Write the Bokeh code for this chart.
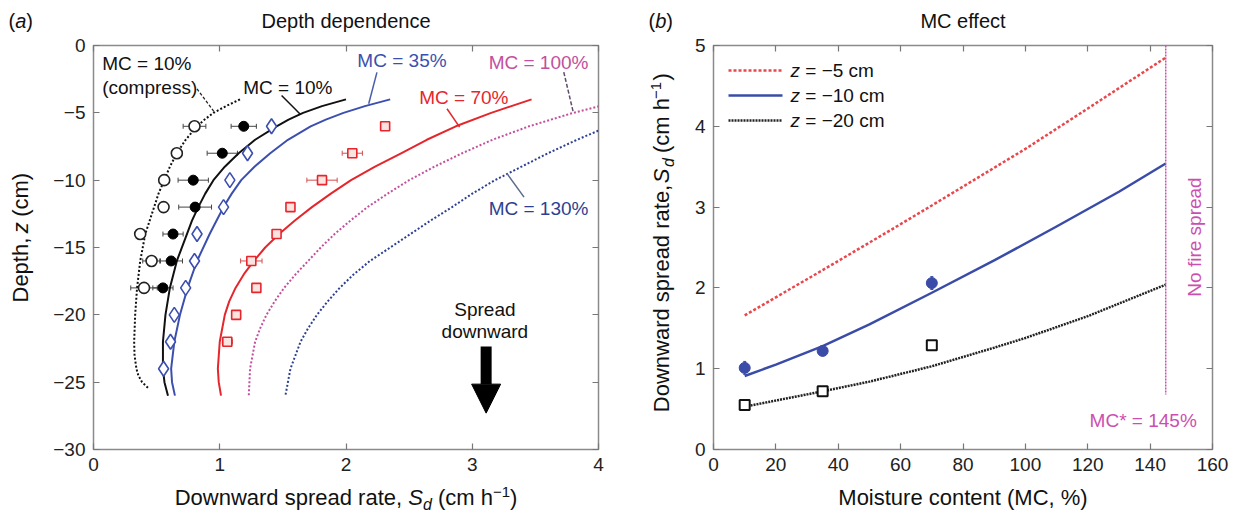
import math
from bokeh.plotting import figure
from bokeh.layouts import row, column
from bokeh.models import (Range1d, FixedTicker, LinearAxis, Label, Whisker, TeeHead,
                          ColumnDataSource, Arrow, NormalHead)
from bokeh.embed import file_html
from bokeh.resources import INLINE

FONT = "Liberation Sans"

# ---------------- panel (a): depth dependence ----------------
# model curves (depth z in cm, spread rate Sd in cm/h)
z_compress = [-4, -4.5, -5, -5.5, -6, -7, -8, -9, -10, -11, -12, -13, -14, -16, -18, -20, -22, -23, -24, -24.5, -25, -25.5]
sd_compress = [1.16, 1.05, 0.95, 0.88, 0.82, 0.73, 0.66, 0.605, 0.56, 0.515, 0.48, 0.445, 0.41, 0.37, 0.345, 0.33, 0.322, 0.325, 0.34, 0.355, 0.385, 0.44]

z_mc10 = [-4, -4.5, -5, -5.5, -6, -7, -8, -9, -10, -11, -12, -13, -14, -16, -18, -20, -22, -24, -25, -26]
sd_mc10 = [2.0, 1.81, 1.66, 1.545, 1.45, 1.28, 1.15, 1.04, 0.95, 0.885, 0.83, 0.78, 0.74, 0.66, 0.605, 0.57, 0.55, 0.55, 0.562, 0.59]

z_mc35 = [-4, -4.5, -5, -5.5, -6, -7, -8, -9, -10, -11, -12, -13, -14, -16, -18, -20, -22, -24, -25, -26]
sd_mc35 = [2.35, 2.15, 1.98, 1.84, 1.72, 1.54, 1.40, 1.275, 1.17, 1.095, 1.03, 0.975, 0.92, 0.82, 0.745, 0.685, 0.64, 0.615, 0.622, 0.645]

z_mc70 = [-4, -5, -6, -7, -8, -9, -10, -11, -12, -13, -14, -15, -16, -17, -18, -19, -20, -22, -24, -25, -26]
sd_mc70 = [3.47, 3.15, 2.87, 2.64, 2.44, 2.23, 2.04, 1.88, 1.73, 1.595, 1.47, 1.36, 1.27, 1.19, 1.125, 1.075, 1.04, 1.0, 0.985, 0.992, 1.01]

z_mc100 = [-4, -5, -6, -7, -8, -9, -10, -11, -12, -13, -14, -15, -16, -17, -18, -19, -20, -21, -22, -24, -26]
sd_mc100 = [4.22, 3.80, 3.45, 3.16, 2.92, 2.70, 2.50, 2.33, 2.17, 2.035, 1.91, 1.80, 1.70, 1.60, 1.51, 1.435, 1.37, 1.32, 1.28, 1.24, 1.23]

z_mc130 = [-4, -5, -6, -7, -8, -9, -10, -11, -12, -13, -14, -15, -16, -17, -18, -19, -20, -21, -22, -24, -26]
sd_mc130 = [4.75, 4.40, 4.08, 3.83, 3.60, 3.39, 3.18, 3.00, 2.84, 2.67, 2.51, 2.35, 2.19, 2.06, 1.95, 1.855, 1.77, 1.70, 1.64, 1.56, 1.52]

# measurements
z_pts = [-6, -8, -10, -12, -14, -16, -18]
sd_compress_pts = [0.80, 0.66, 0.56, 0.555, 0.37, 0.46, 0.40]
err_compress_pts = [0.09, 0.04, 0.03, 0.0, 0.02, 0.07, 0.105]
sd_mc10_pts = [1.19, 1.02, 0.79, 0.805, 0.63, 0.615, 0.55]
err_mc10_pts = [0.10, 0.12, 0.12, 0.13, 0.08, 0.09, 0.08]

z_pts_35 = [-6, -8, -10, -12, -14, -16, -18, -20, -22, -24]
sd_mc35_pts = [1.41, 1.22, 1.08, 1.03, 0.82, 0.80, 0.73, 0.64, 0.61, 0.555]

z_pts_70 = [-6, -8, -10, -12, -14, -16, -18, -20, -22]
sd_mc70_pts = [2.31, 2.05, 1.81, 1.56, 1.45, 1.25, 1.29, 1.13, 1.06]
err_mc70_pts = [0.0, 0.08, 0.12, 0.0, 0.0, 0.085, 0.0, 0.0, 0.04]

xticks_a = [0, 1, 2, 3, 4]
xtick_labels_a = ["0", "1", "2", "3", "4"]
yticks_a = [0, -5, -10, -15, -20, -25, -30]
ytick_labels_a = ["0", "\u22125", "\u221210", "\u221215", "\u221220", "\u221225", "\u221230"]

# ---------------- panel (b): MC effect ----------------
mc_z5 = [10, 35, 57, 70, 100, 120, 145]
sd_z5 = [1.66, 2.22, 2.72, 3.02, 3.72, 4.22, 4.85]
mc_z10 = [10, 20, 35, 50, 70, 90, 110, 130, 145]
sd_z10 = [0.91, 1.05, 1.28, 1.55, 1.94, 2.34, 2.76, 3.19, 3.54]
mc_z20 = [10, 35, 50, 70, 90, 100, 120, 145]
sd_z20 = [0.53, 0.72, 0.84, 1.03, 1.26, 1.38, 1.65, 2.04]

mc_pts = [10, 35, 70]
sd_z10_pts = [1.01, 1.22, 2.06]
err_z10_pts = [0.08, 0.03, 0.08]
sd_z20_pts = [0.55, 0.72, 1.29]

mc_star = 145
mc_star_line_bottom = 0.68

xticks_b = [0, 20, 40, 60, 80, 100, 120, 140, 160]
xtick_labels_b = [str(v) for v in xticks_b]
yticks_b = [0, 1, 2, 3, 4, 5]
ytick_labels_b = [str(v) for v in yticks_b]

# ---------------- layout geometry (page pixels) ----------------
PAGE_W, PAGE_H = 1246, 516
TOP_H = 34                 # title strip
TOP, BOT = 45, 449         # frame top / bottom
MAIN_TOP_B = TOP - TOP_H
MAIN_BOT_B = 34
MAIN_H = MAIN_TOP_B + (BOT - TOP) + MAIN_BOT_B
BOTTOM_H = PAGE_H - TOP_H - MAIN_H
YLAB_L_W = 40
LX0, LX1 = 93, 598
P1_W = 620 - YLAB_L_W
YLAB_R_W = 62
RX0, RX1 = 713, 1212
P2_X = 620 + YLAB_R_W
P2_W = PAGE_W - P2_X


def to_L(px, py):
    return (px - LX0) / ((LX1 - LX0) / 4.0), -(py - TOP) / ((BOT - TOP) / 30.0)


def to_R(px, py):
    return (px - RX0) / ((RX1 - RX0) / 160.0), 5 - (py - TOP) / ((BOT - TOP) / 5.0)


# Arial / Liberation Sans advance widths (1/1000 em)
W = {' ': 278, '(': 333, ')': 333, ',': 278, '%': 889, '=': 584, '\u2212': 584, '*': 389, '.': 278,
     'A': 667, 'B': 667, 'C': 722, 'D': 722, 'M': 833, 'N': 722, 'S': 667,
     'a': 556, 'b': 556, 'c': 500, 'd': 556, 'e': 556, 'f': 278, 'h': 556, 'i': 222, 'l': 222,
     'm': 833, 'n': 556, 'o': 556, 'p': 556, 'r': 333, 's': 500, 't': 278, 'u': 556, 'w': 722,
     'z': 500}


def tw(s, size):
    return sum(W.get(ch, 556) for ch in s) * size / 1000.0


def place_runs(p, conv, runs, cx, cy, vertical=False, align="center", gap=0.0):
    """runs: (text, size, italic, shift_px, color); cx, cy in page pixels (cy = text centre line).
    Each piece is anchored at its own centre; gap adds extra px between pieces."""
    widths = [tw(r[0], r[1]) + (gap if i < len(runs) - 1 else 0) for i, r in enumerate(runs)]
    total = sum(widths)
    base = runs[0][1]
    pos = -total / 2.0 if align == "center" else 0.0
    for (text, size, italic, shift, color), wdt in zip(runs, widths):
        lead = len(text) - len(text.lstrip())
        body = text.strip()
        if body:
            along = pos + tw(text[:lead], size) + tw(body, size) / 2.0
            across = 0.36 * base - shift - 0.35 * size
            if not vertical:
                px, py, ang = cx + along, cy + across, 0.0
            else:
                px, py, ang = cx + across, cy - along, math.pi / 2
            dx, dy = conv(px, py)
            p.add_layout(Label(x=dx, y=dy, text=body, angle=ang, text_font=FONT,
                               text_font_style="italic" if italic else "normal",
                               text_font_size=f"{size}px", text_align="center",
                               text_baseline="middle", text_color=color))
        pos += wdt


def strip(w, h):
    f = figure(width=w, height=h, x_range=Range1d(0, w), y_range=Range1d(h, 0),
               output_backend="svg", toolbar_location=None, x_axis_type=None, y_axis_type=None,
               min_border=0)
    f.outline_line_color = None
    f.background_fill_color = "white"
    f.border_fill_color = "white"
    return f


def style_axes(p, xt, xl, yt, yl):
    p.xaxis.ticker = FixedTicker(ticks=xt)
    p.yaxis.ticker = FixedTicker(ticks=yt)
    p.xaxis.major_label_overrides = {v: s for v, s in zip(xt, xl)}
    p.yaxis.major_label_overrides = {v: s for v, s in zip(yt, yl)}
    top = LinearAxis(ticker=FixedTicker(ticks=xt))
    right = LinearAxis(ticker=FixedTicker(ticks=yt))
    p.add_layout(top, "above")
    p.add_layout(right, "right")
    for ax in p.axis:
        ax.axis_line_color = None
        ax.major_tick_in = 6
        ax.major_tick_out = 0
        ax.major_tick_line_color = "#777777"
        ax.major_tick_line_width = 1.2
        ax.minor_tick_line_color = None
        ax.major_label_text_font = FONT
        ax.major_label_text_font_size = "19px"
        ax.major_label_text_color = "#222222"
        ax.major_label_standoff = 8
    p.xaxis[0].major_label_standoff = 6
    for ax in (top, right):
        ax.major_label_text_font_size = "2px"
        ax.major_label_text_color = None
        ax.major_label_standoff = 0
    p.xgrid.visible = False
    p.ygrid.visible = False
    p.outline_line_color = "#8a8a8a"
    p.outline_line_width = 1.5
    p.background_fill_color = "white"
    p.border_fill_color = "white"


K = "#111111"

# ================= panel (a) =================
p1 = figure(width=P1_W, height=MAIN_H, x_range=Range1d(0, 4), y_range=Range1d(-30, 0),
            output_backend="svg", toolbar_location=None,
            min_border_left=LX0 - YLAB_L_W, min_border_right=620 - LX1,
            min_border_top=MAIN_TOP_B, min_border_bottom=MAIN_BOT_B)
style_axes(p1, xticks_a, xtick_labels_a, yticks_a, ytick_labels_a)

BLUE = "#3d4fae"
RED = "#e5262c"
PINK = "#c2509d"
NAVY = "#2d3f92"

p1.line(sd_compress, z_compress, line_color="#111111", line_width=2, line_dash="2 2", line_join="round")
p1.line(sd_mc10, z_mc10, line_color="#111111", line_width=2, line_join="round")
p1.line(sd_mc35, z_mc35, line_color=BLUE, line_width=2, line_join="round")
p1.line(sd_mc70, z_mc70, line_color=RED, line_width=2, line_join="round")
p1.line(sd_mc100, z_mc100, line_color=PINK, line_width=2, line_dash="2 2", line_join="round")
p1.line(sd_mc130, z_mc130, line_color=NAVY, line_width=2, line_dash="2 2", line_join="round")


def hwhisk(p, xs, ys, errs, color="#444444"):
    keep = [(x, y, e) for x, y, e in zip(xs, ys, errs) if e > 0]
    src = ColumnDataSource(dict(base=[k[1] for k in keep],
                                lower=[k[0] - k[2] for k in keep],
                                upper=[k[0] + k[2] for k in keep]))
    p.add_layout(Whisker(source=src, base="base", lower="lower", upper="upper",
                         dimension="width", line_color=color, line_width=1,
                         upper_head=TeeHead(size=5, line_color=color, line_width=1),
                         lower_head=TeeHead(size=5, line_color=color, line_width=1),
                         level="underlay"))


hwhisk(p1, sd_compress_pts, z_pts, err_compress_pts)
hwhisk(p1, sd_mc10_pts, z_pts, err_mc10_pts)
hwhisk(p1, sd_mc70_pts, z_pts_70, err_mc70_pts, color="#d05050")

p1.scatter(sd_compress_pts, z_pts, marker="circle", size=11, line_color="#222222",
           line_width=1.6, fill_color="white")
p1.scatter(sd_mc10_pts, z_pts, marker="circle", size=10, line_color="black", fill_color="black")
p1.scatter(sd_mc35_pts, z_pts_35, marker="diamond", size=15, line_color=BLUE,
           line_width=1.6, fill_color="white")
p1.scatter(sd_mc70_pts, z_pts_70, marker="square", size=9, line_color=RED,
           line_width=1.6, fill_color="#fbe3df")

# curve labels with leader lines
lbl = dict(text_font=FONT, text_font_size="19px", text_baseline="middle", text_align="left")
p1.add_layout(Label(x=0.069, y=-1.36, text="MC = 10%", text_color="#111111", **lbl))
p1.add_layout(Label(x=0.069, y=-3.09, text="(compress)", text_color="#111111", **lbl))
p1.add_layout(Label(x=1.186, y=-3.09, text="MC = 10%", text_color="#111111", **lbl))
p1.add_layout(Label(x=2.09, y=-1.11, text="MC = 35%", text_color=BLUE, **lbl))
p1.add_layout(Label(x=3.13, y=-1.24, text="MC = 100%", text_color=PINK, **lbl))
p1.add_layout(Label(x=2.58, y=-3.84, text="MC = 70%", text_color=RED, **lbl))
p1.add_layout(Label(x=3.13, y=-12.13, text="MC = 130%", text_color=NAVY, **lbl))

p1.segment(x0=[0.82], y0=[-3.22], x1=[0.958], y1=[-4.95], line_color="#222222", line_width=1.3, line_dash="3 2")
p1.segment(x0=[1.49], y0=[-3.71], x1=[1.64], y1=[-5.12], line_color="#111111", line_width=1.5)
p1.segment(x0=[2.245], y0=[-2.0], x1=[2.18], y1=[-4.33], line_color="#4a5ea8", line_width=1.5)
p1.segment(x0=[2.80], y0=[-4.70], x1=[2.90], y1=[-6.06], line_color=RED, line_width=1.5)
p1.segment(x0=[3.725], y0=[-1.98], x1=[3.80], y1=[-4.95], line_color="#604a6a", line_width=1.5, line_dash="4 2")
p1.segment(x0=[3.277], y0=[-9.53], x1=[3.41], y1=[-11.26], line_color="#5a6a8a", line_width=1.5)

# "Spread downward" arrow
cen = dict(text_font=FONT, text_font_size="19px", text_baseline="middle", text_align="center",
           text_color="#111111")
p1.add_layout(Label(x=3.10, y=-19.6, text="Spread", **cen))
p1.add_layout(Label(x=3.10, y=-21.25, text="downward", **cen))
p1.add_layout(Arrow(end=NormalHead(size=29, fill_color="black", line_color="black", line_width=1),
                    x_start=3.11, y_start=-22.35, x_end=3.11, y_end=-27.3,
                    line_width=11, line_color="black"))

# ================= panel (b) =================
p2 = figure(width=P2_W, height=MAIN_H, x_range=Range1d(0, 160), y_range=Range1d(0, 5),
            output_backend="svg", toolbar_location=None,
            min_border_left=RX0 - P2_X, min_border_right=PAGE_W - RX1,
            min_border_top=MAIN_TOP_B, min_border_bottom=MAIN_BOT_B)
style_axes(p2, xticks_b, xtick_labels_b, yticks_b, ytick_labels_b)

RED2 = "#e8474c"
BLUE2 = "#3a4ca8"
MAG = "#cc4fb0"

p2.line(mc_z5, sd_z5, line_color=RED2, line_width=2.5, line_dash="3 2")
p2.line(mc_z10, sd_z10, line_color=BLUE2, line_width=2.5, line_join="round")
p2.line(mc_z20, sd_z20, line_color="#222222", line_width=2.5, line_dash="2 1")
p2.line([mc_star, mc_star], [5, mc_star_line_bottom], line_color=MAG, line_width=1.5, line_dash="2 1")

src_err = ColumnDataSource(dict(base=mc_pts,
                                lower=[s - e for s, e in zip(sd_z10_pts, err_z10_pts)],
                                upper=[s + e for s, e in zip(sd_z10_pts, err_z10_pts)]))
p2.add_layout(Whisker(source=src_err, base="base", lower="lower", upper="upper", dimension="height",
                      line_color=BLUE2, line_width=1.2,
                      upper_head=TeeHead(size=3, line_color=BLUE2), lower_head=TeeHead(size=3, line_color=BLUE2),
                      level="underlay"))
p2.scatter(mc_pts, sd_z10_pts, marker="circle", size=11, line_color=BLUE2, fill_color=BLUE2)
p2.scatter(mc_pts, sd_z20_pts, marker="square", size=10, line_color="#111111", line_width=2,
           fill_color="white")

# legend (manual, with italic z)
leg_rows = [("\u22125 cm", RED2, "3 2"), ("\u221210 cm", BLUE2, "solid"), ("\u221220 cm", "#222222", "2 1")]
for i, (lab, col, dash) in enumerate(leg_rows):
    ypx = 70 + 25 * i
    xa, ya = to_R(728, ypx)
    xb, _ = to_R(782, ypx)
    p2.line([xa, xb], [ya, ya], line_color=col, line_width=2.5, line_dash=dash)
    place_runs(p2, to_R, [("z", 19, True, 0, K), (" =  " + lab, 19, False, 0, K)], 790, ypx, align="left")

lbl_m = dict(text_font=FONT, text_font_size="19px", text_color=MAG)
p2.add_layout(Label(x=154.2, y=2.63, text="No fire spread", angle=math.pi / 2, text_align="center",
                    text_baseline="middle", **lbl_m))
p2.add_layout(Label(x=120.6, y=0.36, text="MC* = 145%", text_align="left", text_baseline="middle", **lbl_m))

# ================= text strips (titles, axis titles) =================
AX = 22      # axis-title font size
SUB, SUP = 16, 15

top_strip = strip(PAGE_W, TOP_H)
conv_top = lambda px, py: (px, py)
place_runs(top_strip, conv_top, [("(", 20, False, 0, K), ("a", 20, True, 0, K), (")", 20, False, 0, K)],
           8, 20, align="left")
place_runs(top_strip, conv_top, [("Depth dependence", 20, False, 0, K)], (LX0 + LX1) / 2, 20)
place_runs(top_strip, conv_top, [("(", 20, False, 0, K), ("b", 20, True, 0, K), (")", 20, False, 0, K)],
           648, 20, align="left")
place_runs(top_strip, conv_top, [("MC effect", 20, False, 0, K)], (RX0 + RX1) / 2, 20)

bottom_y0 = TOP_H + MAIN_H
bottom_strip = strip(PAGE_W, BOTTOM_H)
conv_bot = lambda px, py: (px, py - bottom_y0)
place_runs(bottom_strip, conv_bot, [("Downward spread rate, ", AX, False, 0, K), ("S", AX, True, 0, K),
                                    ("d", SUB, True, -5, K), (" (cm h", AX, False, 0, K),
                                    ("\u22121", SUP, False, 8, K), (")", AX, False, 0, K)],
           (LX0 + LX1) / 2, 497)
place_runs(bottom_strip, conv_bot, [("Moisture content (MC, %)", AX, False, 0, K)], (RX0 + RX1) / 2, 497)

ylab_l = strip(YLAB_L_W, MAIN_H)
conv_yl = lambda px, py: (px, py - TOP_H)
place_runs(ylab_l, conv_yl, [("Depth, ", AX, False, 0, K), ("z", AX, True, 0, K), (" (cm)", AX, False, 0, K)],
           20, (TOP + BOT) / 2, vertical=True, gap=3)

ylab_r = strip(YLAB_R_W, MAIN_H)
conv_yr = lambda px, py: (px - 620, py - TOP_H)
place_runs(ylab_r, conv_yr, [("Downward spread rate,  ", AX, False, 0, K), ("S", AX, True, 0, K),
                             ("d", SUB, True, -5, K), (" (cm h", AX, False, 0, K),
                             ("\u22121", SUP, False, 8, K), (")", AX, False, 0, K)],
           661, (TOP + BOT) / 2, vertical=True, gap=3)

layout = column(top_strip, row(ylab_l, p1, ylab_r, p2), bottom_strip)
open("out.html", "w").write(file_html(layout, INLINE))
